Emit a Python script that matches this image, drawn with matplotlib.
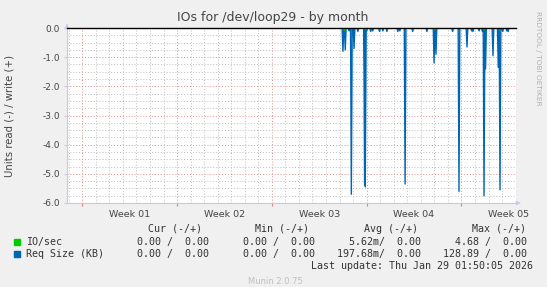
import matplotlib
matplotlib.use("Agg")
import matplotlib.pyplot as plt
import numpy as np

# ---- data (x = days since Mon Dec 29 2025, y = read shown negative) ----
week_labels = ["Week 01", "Week 02", "Week 03", "Week 04", "Week 05"]
week_starts = [0, 7, 14, 21, 28]

# large read spikes of Req Size (KB)
spike_days = [19.25, 19.42, 19.87, 20.07, 20.85, 20.9, 23.84, 25.98, 26.12,
              27.82, 28.41, 29.67, 29.78, 30.33, 30.72, 30.85]
spike_vals = [-0.80, -0.75, -5.70, -0.70, -5.40, -5.45, -5.35, -1.20, -0.90,
              -5.60, -0.65, -5.75, -1.40, -0.95, -1.35, -5.55]

# small read dips of Req Size (KB)
dip_days = [19.7, 20.35, 21.0, 21.3, 21.45, 21.95, 22.2, 22.5, 23.3, 23.45,
            24.4, 25.45, 27.35, 28.75, 28.85, 29.3, 29.55, 31.05, 31.35, 31.45]
dip_vals = [-0.10, -0.12, -0.10, -0.12, -0.10, -0.12, -0.10, -0.12, -0.12, -0.10,
            -0.12, -0.12, -0.12, -0.10, -0.12, -0.10, -0.12, -0.12, -0.10, -0.12]

# IO/sec read blips
io_days = [19.35, 20.95, 26.05, 29.7, 30.8]
io_vals = [-0.08, -0.06, -0.06, -0.06, -0.06]

legend_rows = [
    ("IO/sec", "#00CC00", "0.00 /  0.00", "0.00 /  0.00", "5.62m/  0.00", "4.68 /  0.00"),
    ("Req Size (KB)", "#0066B3", "0.00 /  0.00", "0.00 /  0.00", "197.68m/  0.00", "128.89 /  0.00"),
]
col_headers = ["Cur (-/+)", "Min (-/+)", "Avg (-/+)", "Max (-/+)"]

W, H = 547, 287
fig = plt.figure(figsize=(W / 100, H / 100), dpi=100, facecolor="#F0F0F0")

x0, x1, y0, y1 = 67, 516, 28, 203
ax = fig.add_axes([x0 / W, 1 - y1 / H, (x1 - x0) / W, (y1 - y0) / H])
ax.set_facecolor("white")

xmin = (x0 - 82.3) / 13.54
xmax = (x1 - 82.3) / 13.54
ax.set_xlim(xmin, xmax)
ax.set_ylim(-6, 0)

def spikes(days, vals, hw):
    xs, ys = [xmin], [0.0]
    for d, v in sorted(zip(days, vals)):
        xs += [d - hw, d, d + hw]
        ys += [0.0, v, 0.0]
    xs.append(xmax)
    ys.append(0.0)
    return xs, ys

# grid
grid_minor = dict(color="#BDBDBD", lw=0.7, ls=(0, (1, 2)), zorder=0)
grid_major = dict(color="#E09090", lw=0.7, ls=(0, (1, 2)), zorder=0)
for d in range(-1, 33):
    if d in week_starts:
        continue
    ax.axvline(d, **grid_minor)
for d in week_starts:
    ax.axvline(d, **grid_major)
for yv in np.arange(-6, 0.01, 0.25):
    if abs(yv - round(yv)) < 1e-6:
        ax.axhline(yv, **grid_major)
    else:
        ax.axhline(yv, **grid_minor)

# series
bx, by = spikes(spike_days + dip_days, spike_vals + dip_vals, 0.06)
ax.fill_between(bx, by, 0, color="#0066B3", alpha=0.25, lw=0, zorder=2)
ax.plot(bx, by, color="#0066B3", lw=1.0, zorder=3)
gx, gy = spikes(io_days, io_vals, 0.08)
ax.plot(gx, gy, color="#00CC00", lw=1.0, zorder=4)
ax.axhline(0, color="black", lw=1.0, zorder=5, clip_on=False)

for s in ["top", "right"]:
    ax.spines[s].set_visible(False)
for s in ["left", "bottom"]:
    ax.spines[s].set_color("#C8C8E8")
    ax.spines[s].set_linewidth(0.8)
ax.annotate("", xy=(x1 / W + 0.014, 1 - y1 / H), xytext=(x1 / W, 1 - y1 / H),
            xycoords="figure fraction",
            arrowprops=dict(arrowstyle="-|>", color="#C8C8F0", lw=0.6, mutation_scale=7))
ax.annotate("", xy=(x0 / W, 1 - 21 / H), xytext=(x0 / W, 1 - y0 / H),
            xycoords="figure fraction",
            arrowprops=dict(arrowstyle="-|>", color="#C8C8F0", lw=0.6, mutation_scale=7))

ax.set_yticks(np.arange(-6, 0.01, 1.0))
ax.set_yticklabels([f"{v:.1f}" for v in np.arange(-6, 0.01, 1.0)])
ax.set_xticks(week_starts)
ax.set_xticklabels([])
ax.set_xticks([d + 3.5 for d in week_starts], minor=True)
ax.set_xticklabels(week_labels, minor=True)
ax.tick_params(axis="x", which="major", length=2, color="#E08080", direction="out")
ax.tick_params(axis="x", which="minor", length=0, labelsize=6.8, labelcolor="#444444", pad=5)
ax.tick_params(axis="y", length=2, color="#C8C8E8", labelsize=6.5, labelcolor="#444444", pad=3)

fig.text(10 / W, 1 - 116 / H, "Units read (-) / write (+)", rotation=90,
         ha="center", va="center", fontsize=7.3, color="#444444")
fig.text(273 / W, 1 - 18 / H, "IOs for /dev/loop29 - by month", ha="center",
         va="center", fontsize=9.0, color="#444444")
fig.text(538 / W, 1 - 58 / H, "RRDTOOL / TOBI OETIKER", rotation=270, ha="center",
         va="center", fontsize=5.3, color="#B0B0B0")

mono = dict(family="DejaVu Sans Mono", fontsize=7.2, color="#333333", va="center")
head_right = [201.5, 308.8, 417.7, 526.2]
col_right = [209.4, 315.1, 421.1, 526.9]
for cx, hd in zip(head_right, col_headers):
    fig.text(cx / W, 1 - 228.6 / H, hd, ha="right", **mono)
for i, (name, col, *vals) in enumerate(legend_rows):
    yy = 1 - (241.5 + 12.5 * i) / H
    fig.patches.append(matplotlib.patches.Rectangle((14 / W, yy - 3 / H), 6 / W, 6 / H,
                                                    transform=fig.transFigure, color=col))
    fig.text(26.2 / W, yy, name, ha="left", **mono)
    for cx, v in zip(col_right, vals):
        fig.text(cx / W, yy, v, ha="right", **mono)
fig.text(532.8 / W, 1 - 266.3 / H, "Last update: Thu Jan 29 01:50:05 2026", ha="right", **mono)
fig.text(275 / W, 1 - 281 / H, "Munin 2.0.75", ha="center", va="center",
         fontsize=6.0, color="#C0C0C0")

fig.savefig("out.png", dpi=100, facecolor=fig.get_facecolor())
